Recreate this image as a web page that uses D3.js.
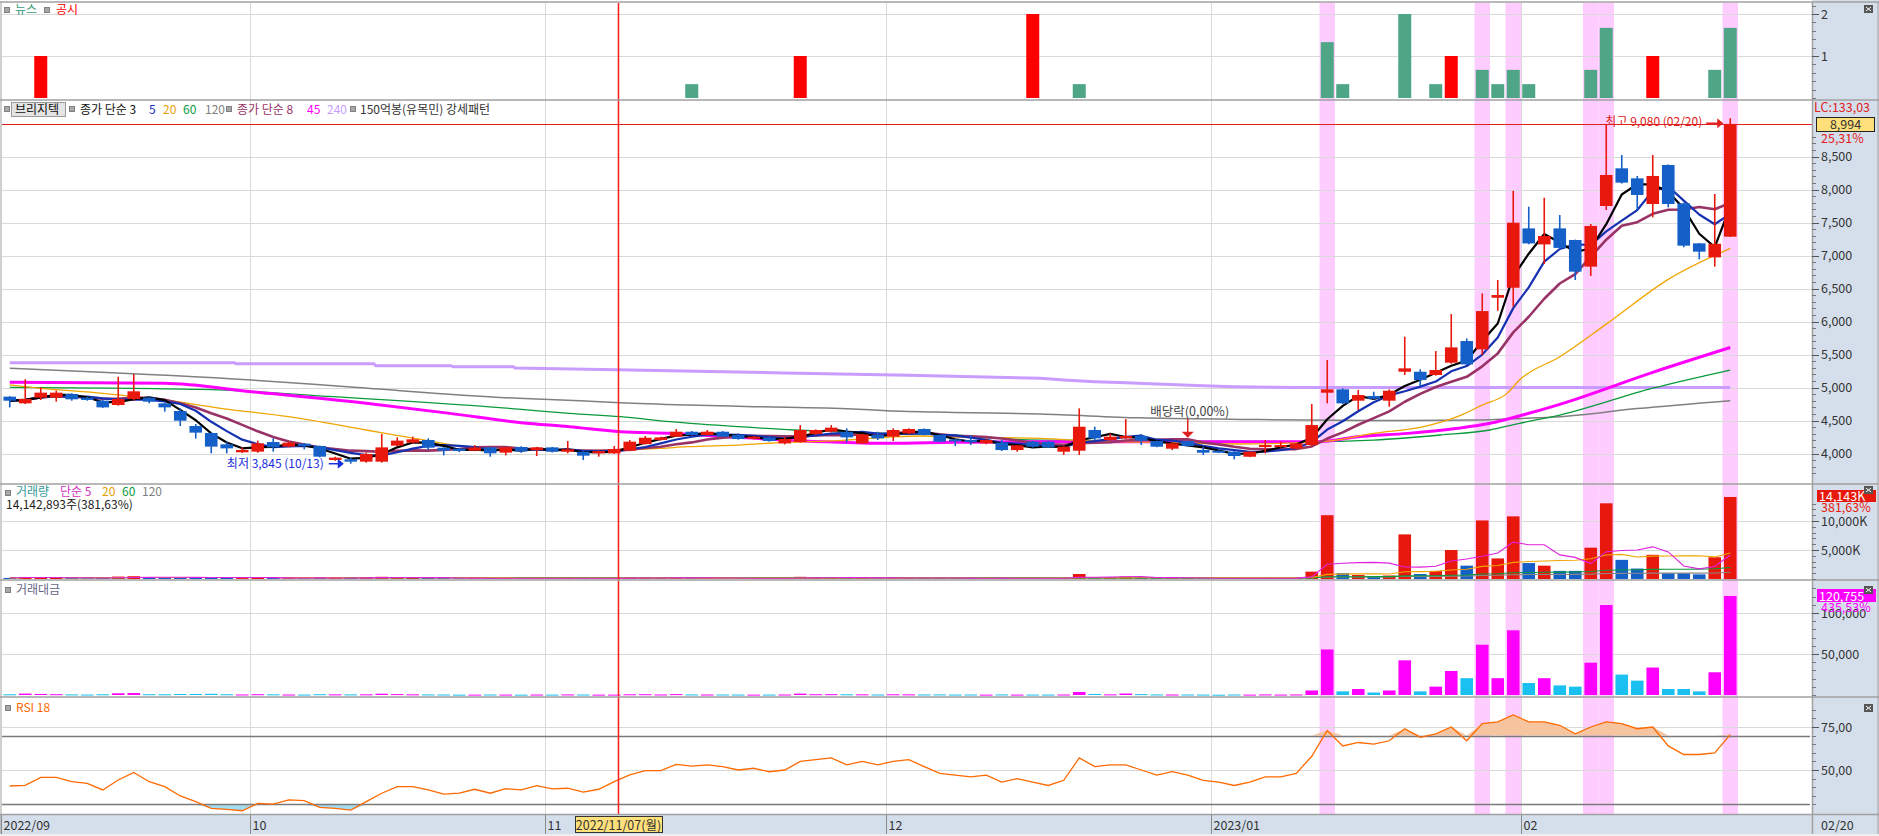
<!DOCTYPE html>
<html><head><meta charset="utf-8">
<script src="https://cdn.jsdelivr.net/npm/d3@7"></script>
<style>
body{margin:0;background:#fff;}
svg{display:block;font-family:"Noto Sans CJK KR","Noto Sans",sans-serif;}
</style></head><body>
<svg id="c" width="1879" height="836"></svg>
<script>
// ---------- DATA ----------
const dates = [
"2022-09-07","2022-09-08","2022-09-13","2022-09-14","2022-09-15","2022-09-16","2022-09-19","2022-09-20","2022-09-21","2022-09-22","2022-09-23","2022-09-26","2022-09-27","2022-09-28","2022-09-29","2022-09-30",
"2022-10-04","2022-10-05","2022-10-06","2022-10-07","2022-10-11","2022-10-12","2022-10-13","2022-10-14","2022-10-17","2022-10-18","2022-10-19","2022-10-20","2022-10-21","2022-10-24","2022-10-25","2022-10-26","2022-10-27","2022-10-28","2022-10-31",
"2022-11-01","2022-11-02","2022-11-03","2022-11-04","2022-11-07","2022-11-08","2022-11-09","2022-11-10","2022-11-11","2022-11-14","2022-11-15","2022-11-16","2022-11-17","2022-11-18","2022-11-21","2022-11-22","2022-11-23","2022-11-24","2022-11-25","2022-11-28","2022-11-29","2022-11-30",
"2022-12-01","2022-12-02","2022-12-05","2022-12-06","2022-12-07","2022-12-08","2022-12-09","2022-12-12","2022-12-13","2022-12-14","2022-12-15","2022-12-16","2022-12-19","2022-12-20","2022-12-21","2022-12-22","2022-12-23","2022-12-26","2022-12-27","2022-12-28","2022-12-29",
"2023-01-02","2023-01-03","2023-01-04","2023-01-05","2023-01-06","2023-01-09","2023-01-10","2023-01-11","2023-01-12","2023-01-13","2023-01-16","2023-01-17","2023-01-18","2023-01-19","2023-01-20","2023-01-25","2023-01-26","2023-01-27","2023-01-30","2023-01-31",
"2023-02-01","2023-02-02","2023-02-03","2023-02-06","2023-02-07","2023-02-08","2023-02-09","2023-02-10","2023-02-13","2023-02-14","2023-02-15","2023-02-16","2023-02-17","2023-02-20"];

const open = [4861,4760,4846,4846,4901,4846,4800,4735,4826,4846,
 4760,4644,4417,4311,4139,4018,4028,4174,4104,4149,
 4114,3902,3912,3876,3876,4119,4164,4205,4088,4073,
 4043,4093,4013,4098,4052,4093,4027,4027,4002,4002,
 4042,4143,4204,4255,4330,4280,4330,4280,4224,4244,
 4153,4174,4295,4330,4330,4153,4280,4255,4305,4371,
 4280,4214,4204,4153,4164,4052,4179,4179,4027,4042,
 4356,4204,4229,4265,4189,4073,4189,4053,4042,4027,
 3951,4103,4100,4073,4128,4921,4972,4800,4871,4800,
 5239,5239,5189,5376,5704,5578,6360,6512,7411,7168,
 7411,7235,6831,7750,8321,8169,7780,8371,7790,7184,
 6972,7285];
const high = [4870,5124,5002,4952,4910,4860,4810,5164,5204,4860,
 4770,4684,4447,4320,4179,4093,4194,4230,4179,4160,
 4120,3950,3937,4013,4295,4245,4255,4230,4095,4085,
 4129,4100,4100,4110,4100,4100,4189,4035,4045,4113,
 4204,4265,4255,4371,4340,4356,4340,4305,4265,4255,
 4244,4431,4365,4431,4381,4300,4330,4381,4381,4380,
 4290,4225,4280,4215,4204,4130,4190,4190,4110,4684,
 4406,4305,4522,4295,4195,4165,4195,4103,4050,4035,
 4035,4204,4178,4160,4749,5416,4987,4962,4936,4972,
 5770,5275,5552,6113,5744,6426,6628,7981,7739,7875,
 7613,7240,7477,8977,8523,8205,8523,8380,7800,7190,
 7932,9080];
const low = [4699,4750,4811,4785,4800,4800,4690,4725,4800,4760,
 4634,4417,4225,4003,4003,4010,4010,4028,4095,4063,
 3942,3890,3845,3861,3861,4110,4150,4053,3972,4020,
 4035,3952,3972,4010,3962,4015,4002,3901,3952,3995,
 4035,4135,4195,4250,4270,4270,4250,4210,4215,4180,
 4138,4165,4285,4320,4169,4145,4204,4189,4290,4275,
 4170,4113,4128,4140,4037,4027,4090,4085,3977,3977,
 4204,4195,4220,4128,4095,4052,4100,3977,4005,3911,
 3945,4002,4090,4065,4113,4760,4750,4659,4820,4709,
 5189,5022,5180,5360,5340,5492,6163,6224,7170,6870,
 7100,6629,6690,7689,8090,7689,7578,7730,7124,6942,
 6831,7280];
const close = [4800,4826,4922,4922,4821,4811,4699,4826,4942,4785,
 4699,4497,4316,4104,4078,4053,4154,4093,4164,4114,
 3952,3937,3876,3992,4093,4195,4215,4088,4043,4038,
 4093,4003,4093,4032,4093,4027,4063,3967,4037,4068,
 4179,4239,4244,4330,4280,4330,4255,4219,4255,4189,
 4219,4356,4356,4391,4244,4290,4229,4356,4371,4280,
 4179,4189,4179,4204,4052,4123,4103,4093,4103,4406,
 4229,4255,4265,4194,4103,4154,4113,4012,4012,3962,
 4027,4128,4128,4154,4431,4972,4760,4886,4830,4951,
 5290,5113,5265,5608,5350,6158,6401,7497,7183,7295,
 7115,6755,7447,8220,8104,7917,8205,7780,7149,7058,
 7177,8994];
// volume in thousand shares
const volume = [180,350,260,200,150,120,180,420,480,200,
 180,260,300,340,220,160,230,200,140,120,
 240,200,190,210,380,260,190,170,150,110,
 120,150,130,110,140,120,170,150,110,120,
 210,230,150,250,160,140,150,130,110,120,
 140,380,220,230,200,190,140,200,180,150,
 170,130,150,110,160,120,130,120,150,860,
 300,180,420,250,160,140,150,130,90,150,
 120,170,130,160,1270,11000,1000,690,380,600,
 7690,860,1400,5000,2300,10100,3550,10800,2750,2300,
 1400,1400,5400,13050,3300,1800,4170,1000,1000,800,
 3750,14143];
// trading value in million won
const tradeValue = [870,1700,1280,980,730,580,860,2100,2400,970,
 860,1200,1330,1440,910,650,950,830,580,500,
 960,790,750,830,1550,1090,800,700,610,450,
 490,610,530,450,570,490,700,600,450,490,
 870,970,640,1070,690,600,640,550,470,510,
 590,1640,950,1000,860,810,600,870,780,650,
 720,550,630,460,670,500,540,500,620,3700,
 1290,770,1850,1070,670,590,630,530,370,600,
 490,700,540,660,5500,55500,4400,7300,3000,5500,
 42300,4400,10200,29300,20500,61300,20500,78900,14600,20500,
 11700,10200,39400,109700,24900,17500,33500,7300,7300,4400,
 27700,120755];
const rsi18 = [40.7,41.1,45.7,45.7,43.2,42.2,38.4,44.2,48.6,43.2,
 40.3,34.9,31.6,27.7,27.1,26.3,30.6,30.2,32.6,32.2,
 28.3,27.7,26.7,31.6,36.5,40.3,40.3,38.4,36.0,36.5,
 38.8,36.5,39.1,38.4,40.9,39.0,39.4,37.2,38.8,43.2,
 47.1,49.6,49.6,53.3,52.3,53,52,50,51,49,
 50,55,56,57,53,55,53,55,56,52,
 48,47,46,47,43,45,43,41,44,57,
 52,53,53,50,47,49,47,44,43,41,
 43,46,46,48,58,73,64,66,65,67,
 74,69,71,75,67,77,78,82,78,78,
 76,71,75,78,77,74,75,64,59,59,
 60,70.6];

// long moving averages: [bar index, value]
const ma20Pts = [[0,5038],[2,4988],[6,4912],[10,4811],[13.6,4684],[18,4558],[23,4356],[26.5,4214],[29.5,4103],[33,4070],[36,4045],[39.4,4053],[42,4078],[43.7,4103],[47,4128],[50,4169],[53.4,4194],[56.6,4245],[58.7,4265],[62,4245],[66.5,4230],[68.6,4204],[75,4164],[79.4,4144],[84.7,4179],[88,4305],[91.2,4406],[93.4,4558],[95,4734],[96.6,4911],[97.4,5113],[100,5466],[103,5960],[107,6639],[111,7109]];
const ma45Pts = [[0,5078],[10,5063],[15.6,4937],[23,4760],[28.4,4608],[33,4467],[36.1,4406],[39.4,4331],[42.6,4305],[47,4245],[51.2,4189],[54.5,4164],[56.6,4154],[60.9,4169],[66.5,4179],[84.4,4179],[87,4255],[90.2,4305],[93.4,4381],[95.5,4457],[97.6,4583],[100,4745],[106,5230],[111,5606]];
const ma60Pts = [[0,5003],[12.3,4972],[20.9,4861],[33,4669],[36.1,4608],[39.4,4558],[42.6,4482],[47,4406],[50.6,4356],[53.4,4331],[56.6,4305],[60.9,4280],[63,4240],[66.5,4204],[75,4190],[83.7,4179],[88,4204],[92.3,4280],[95.5,4356],[97.4,4457],[100,4583],[106,4990],[111,5265]];
const ma120Pts = [[0,5290],[3.7,5255],[15.6,5114],[22.2,5003],[32.8,4836],[36.8,4801],[39.4,4770],[43.7,4735],[48,4710],[54.4,4674],[56.6,4649],[60.9,4623],[66.5,4598],[72.9,4540],[79.4,4517],[88,4500],[94.4,4507],[97.6,4532],[100,4558],[105,4680],[111,4800]];
const ma240Pts = [[0,5376],[14.5,5376],[14.6,5361],[23.5,5361],[23.6,5331],[28.5,5331],[28.6,5316],[32.5,5316],[32.6,5295],[40,5265],[50,5220],[58,5185],[66.5,5139],[68,5113],[70,5088],[72,5073],[74,5053],[77,5028],[79,5012],[83,5000],[111,5000]];

const newsDates = ["2022-11-14","2022-12-19","2023-01-11","2023-01-12","2023-01-18","2023-01-20","2023-01-27","2023-01-30","2023-01-31","2023-02-01","2023-02-07","2023-02-08","2023-02-17","2023-02-20"];
const newsVals  = [0.33,0.33,1.33,0.33,2,0.33,0.67,0.33,0.67,0.33,0.67,1.67,0.67,1.67];
const discDates = ["2022-09-13","2022-11-23","2022-12-14","2023-01-25","2023-02-13"];
const discVals  = [1,1,2,1,1];
const patternDates = ["2023-01-11","2023-01-27","2023-01-31","2023-02-07","2023-02-08","2023-02-20"];

const priceTicks = [4000,4500,5000,5500,6000,6500,7000,7500,8000,8500];
const newsTicks = [1,2];
const volTicks = [5000,10000];
const tvTicks = [50000,100000];
const rsiTicks = [50,75];
const rsiLevels = [30,70];
const lowMark = {date:"2022-10-13", value:3845, label:"최저 3,845 (10/13)"};
const highMark = {date:"2023-02-20", value:9080, label:"최고 9,080 (02/20)"};
const divMark = {date:"2022-12-28", label:"배당락(0,00%)"};
const crossDate = "2022-11-07";

// ---------- LAYOUT ----------
const svg = d3.select('#c');
const RED='#e8190c', BLUE='#1560c8', GRID='#d9d9d9', AXBG='#d5dfec', TXT='#333';
const n = dates.length, step = 15.5;
const idx = d3.range(n);
const di = d => dates.indexOf(d);
const x = d3.scaleLinear().domain([-0.5, n-0.5]).range([2, 2+n*step]);
const PR = 1812; // plot right
const yN = d3.scaleLinear().domain([0,2]).range([98,14]);
const yP = d3.scaleLinear().domain([4000,8500]).range([453.5,156.5]);
const yV = d3.scaleLinear().domain([0,10000]).range([579,521]);
const yT = d3.scaleLinear().domain([0,100000]).range([695,613]);
const yR = d3.scaleLinear().domain([50,75]).range([770,727]);
const panels = {news:[3,99], price:[101,483], vol:[485,579], tv:[581,696], rsi:[698,814]};

const defs = svg.append('defs');
Object.entries(panels).forEach(([k,[t,b]])=>{
  defs.append('clipPath').attr('id','cp-'+k).append('rect')
    .attr('x',2).attr('y',t).attr('width',PR-2).attr('height',b-t);
});

// backgrounds
svg.append('rect').attr('width',1879).attr('height',836).attr('fill','#fff');
svg.append('rect').attr('x',PR).attr('y',0).attr('width',1879-PR).attr('height',815).attr('fill',AXBG);
svg.append('rect').attr('x',0).attr('y',815).attr('width',1879).attr('height',19).attr('fill',AXBG);
svg.append('rect').attr('x',0).attr('y',834).attr('width',1879).attr('height',2).attr('fill','#eeeeee');

// pattern bands
svg.append('g').selectAll('rect').data(patternDates.map(di)).join('rect')
  .attr('x', i=>x(i)-step/2).attr('width', step).attr('y',3).attr('height',811)
  .attr('fill','#ffccff');

// horizontal grids
const hgrid = (vals, sc) => svg.append('g').selectAll('line').data(vals).join('line')
  .attr('x1',2).attr('x2',PR).attr('y1',d=>Math.round(sc(d))+0.5).attr('y2',d=>Math.round(sc(d))+0.5)
  .attr('stroke',GRID).attr('stroke-width',1);
hgrid(newsTicks,yN); hgrid(priceTicks,yP); hgrid(volTicks,yV); hgrid(tvTicks,yT); hgrid(rsiTicks,yR);

// month boundaries
const monthStarts = idx.filter(i => i===0 || dates[i].slice(0,7)!==dates[i-1].slice(0,7));
svg.append('g').selectAll('line').data(monthStarts.filter(i=>i>0)).join('line')
  .attr('x1',i=>Math.round(x(i)-step/2)+0.5).attr('x2',i=>Math.round(x(i)-step/2)+0.5)
  .attr('y1',3).attr('y2',814).attr('stroke',GRID);

// ---------- NEWS PANEL ----------
const gN = svg.append('g').attr('clip-path','url(#cp-news)');
gN.selectAll('rect.n').data(newsDates.map((d,k)=>({i:di(d),v:newsVals[k]}))).join('rect')
  .attr('x',d=>x(d.i)-6.5).attr('width',13).attr('y',d=>yN(d.v)).attr('height',d=>yN(0)-yN(d.v))
  .attr('fill','#4ea686');
gN.selectAll('rect.d').data(discDates.map((d,k)=>({i:di(d),v:discVals[k]}))).join('rect')
  .attr('x',d=>x(d.i)-6.5).attr('width',13).attr('y',d=>yN(d.v)).attr('height',d=>yN(0)-yN(d.v))
  .attr('fill','#ff0000');

// ---------- PRICE PANEL ----------
const gP = svg.append('g').attr('clip-path','url(#cp-price)');
const sma = (arr,p) => arr.map((_,i)=>d3.mean(arr.slice(Math.max(0,i-p+1),i+1)));
const ma3 = sma(close,3), ma5 = sma(close,5), ma8 = sma(close,8);
const lineIdx = d3.line().x(d=>x(d[0])).y(d=>yP(d[1])).curve(d3.curveMonotoneX);
const lineArr = arr => d3.line().x((d,i)=>x(i)).y(d=>yP(d))(arr);
const drawPath = (d,color,w) => gP.append('path').attr('d',d).attr('fill','none').attr('stroke',color).attr('stroke-width',w).attr('stroke-linejoin','round');
drawPath(d3.line().x(d=>x(d[0])).y(d=>yP(d[1]))(ma240Pts),'#c99cff',3);
drawPath(lineIdx(ma120Pts),'#808080',1.5);
drawPath(lineIdx(ma60Pts),'#0a9a3a',1.3);
drawPath(lineIdx(ma45Pts),'#ff00ff',3);
drawPath(lineIdx(ma20Pts),'#f0a500',1.3);
drawPath(lineArr(ma8),'#993366',2.6);
drawPath(lineArr(ma5),'#1530b0',2.2);
drawPath(lineArr(ma3),'#000000',2.2);

const up = i => close[i] >= open[i];
gP.selectAll('line.wick').data(idx).join('line')
  .attr('x1',i=>x(i)).attr('x2',i=>x(i)).attr('y1',i=>yP(high[i])).attr('y2',i=>yP(low[i]))
  .attr('stroke',i=>up(i)?RED:BLUE).attr('stroke-width',1.6);
gP.selectAll('rect.body').data(idx).join('rect')
  .attr('x',i=>x(i)-6.3).attr('width',12.6)
  .attr('y',i=>yP(Math.max(open[i],close[i])))
  .attr('height',i=>Math.max(2,Math.abs(yP(open[i])-yP(close[i]))))
  .attr('fill',i=>up(i)?RED:BLUE);

// last price line
const lastY = Math.round(yP(close[n-1]))+0.5;
svg.append('line').attr('x1',2).attr('x2',PR).attr('y1',lastY).attr('y2',lastY).attr('stroke','#e02020').attr('stroke-width',1.2);

// annotations
const li = di(lowMark.date), ly = yP(lowMark.value);
svg.append('path').attr('d',`M${x(li)-22},${ly}L${x(li)-12},${ly}`).attr('stroke','#1a2ee0').attr('stroke-width',1.5);
svg.append('path').attr('d',`M${x(li)-13},${ly-5}L${x(li)-7},${ly}L${x(li)-13},${ly+5}Z`).attr('fill','#1a2ee0');
svg.append('text').attr('x',x(li)-27).attr('y',ly+4).attr('text-anchor','end').attr('font-size',12).attr('fill','#1a2ee0').text(lowMark.label);

const hi = di(highMark.date), hy = yP(highMark.value)+5;
svg.append('path').attr('d',`M${x(hi)-24},${hy}L${x(hi)-12},${hy}`).attr('stroke','#e02020').attr('stroke-width',1.5);
svg.append('path').attr('d',`M${x(hi)-13},${hy-5}L${x(hi)-7},${hy}L${x(hi)-13},${hy+5}Z`).attr('fill','#e02020');
svg.append('text').attr('x',x(hi)-28).attr('y',hy+3).attr('text-anchor','end').attr('font-size',12).attr('fill','#e02020').text(highMark.label);

const dvi = di(divMark.date), dvTip = yP(high[dvi]) - 3;
svg.append('line').attr('x1',x(dvi)).attr('x2',x(dvi)).attr('y1',dvTip-19).attr('y2',dvTip-5).attr('stroke','#e02020').attr('stroke-width',1.5);
svg.append('path').attr('d',`M${x(dvi)-6},${dvTip-6}L${x(dvi)+6},${dvTip-6}L${x(dvi)},${dvTip}Z`).attr('fill','#e02020');
svg.append('text').attr('x',x(dvi)+2).attr('y',dvTip-22).attr('text-anchor','middle').attr('font-size',12.5).attr('fill','#444').text(divMark.label);

// ---------- VOLUME PANEL ----------
const gV = svg.append('g').attr('clip-path','url(#cp-vol)');
gV.selectAll('rect').data(idx).join('rect')
  .attr('x',i=>x(i)-6.3).attr('width',12.6).attr('y',i=>yV(volume[i])).attr('height',i=>Math.max(0.6,yV(0)-yV(volume[i])))
  .attr('fill',i=>up(i)?RED:BLUE);
const vline = (arr,color) => gV.append('path').attr('d',d3.line().x((d,i)=>x(i)).y(d=>yV(d))(arr)).attr('fill','none').attr('stroke',color).attr('stroke-width',1.1);
vline(sma(volume,120),'#888888');
vline(sma(volume,60),'#0a9a3a');
vline(sma(volume,20),'#f0a500');
vline(sma(volume,5),'#e020e0');

// ---------- TRADING VALUE PANEL ----------
const gT = svg.append('g').attr('clip-path','url(#cp-tv)');
gT.selectAll('rect').data(idx).join('rect')
  .attr('x',i=>x(i)-6.3).attr('width',12.6).attr('y',i=>yT(tradeValue[i])).attr('height',i=>Math.max(1,yT(0)-yT(tradeValue[i])))
  .attr('fill',i=>up(i)?'#ff00ff':'#19c0f0');

// ---------- RSI PANEL ----------
const gR = svg.append('g').attr('clip-path','url(#cp-rsi)');
gR.append('path').attr('d',d3.area().x((d,i)=>x(i)).y0(yR(70)).y1(d=>yR(Math.max(d,70)))(rsi18)).attr('fill','#f6c5a0');
gR.append('path').attr('d',d3.area().x((d,i)=>x(i)).y0(yR(30)).y1(d=>yR(Math.min(d,30)))(rsi18)).attr('fill','#a6dcef');
gR.selectAll('line.lv').data(rsiLevels).join('line')
  .attr('x1',2).attr('x2',PR-2).attr('y1',d=>Math.round(yR(d))+0.5).attr('y2',d=>Math.round(yR(d))+0.5)
  .attr('stroke','#7a7a7a').attr('stroke-width',1.5);
gR.append('path').attr('d',d3.line().x((d,i)=>x(i)).y(d=>yR(d))(rsi18)).attr('fill','none').attr('stroke','#ff6a00').attr('stroke-width',1.3);

// crosshair vertical line
const cx = Math.round(x(di(crossDate)))+4.5;
svg.append('line').attr('x1',cx).attr('x2',cx).attr('y1',3).attr('y2',814).attr('stroke','#ff1a1a').attr('stroke-width',1.5);

// ---------- FRAME ----------
const sep = [2,100,484,580,697,814.5];
svg.append('g').selectAll('line').data(sep).join('line')
  .attr('x1',0).attr('x2',1879).attr('y1',d=>d).attr('y2',d=>d).attr('stroke','#a0a0a0').attr('stroke-width',1.6);
svg.append('line').attr('x1',1).attr('x2',1).attr('y1',2).attr('y2',834).attr('stroke','#a0a0a0');
svg.append('line').attr('x1',PR+0.5).attr('x2',PR+0.5).attr('y1',2).attr('y2',834).attr('stroke','#a0a0a0').attr('stroke-width',1.5);
svg.append('line').attr('x1',1878).attr('x2',1878).attr('y1',2).attr('y2',834).attr('stroke','#a0a0a0');

// ---------- RIGHT AXES ----------
const axis = (sc, major, minorStep, lo, hi, fmt, fs) => {
  const g = svg.append('g');
  const minors = d3.range(lo, hi+1e-9, minorStep);
  g.selectAll('line.mi').data(minors).join('line')
    .attr('x1',PR).attr('x2',PR+4).attr('y1',d=>Math.round(sc(d))+0.5).attr('y2',d=>Math.round(sc(d))+0.5).attr('stroke','#777');
  g.selectAll('line.ma').data(major).join('line')
    .attr('x1',PR).attr('x2',PR+7).attr('y1',d=>Math.round(sc(d))+0.5).attr('y2',d=>Math.round(sc(d))+0.5).attr('stroke','#555');
  g.selectAll('text').data(major).join('text')
    .attr('x',PR+9).attr('y',d=>sc(d)+4.5).attr('font-size',fs||12.5).attr('fill',TXT).text(fmt);
};
const comma = d3.format(',');
axis(yN, newsTicks, 0.2, 0, 2.2, d=>d);
axis(yP, priceTicks, 100, 3700, 8800, d=>comma(d));
axis(yV, volTicks, 1000, 0, 13000, d=>comma(d)+'K');
axis(yT, tvTicks, 10000, 0, 130000, d=>comma(d));
axis(yR, rsiTicks, 5, 30, 85, d=>d.toFixed(2).replace('.',','));

// right axis value labels
svg.append('text').attr('x',PR+2).attr('y',112).attr('font-size',12.5).attr('fill','#e02020').text('LC:133,03');
svg.append('rect').attr('x',PR+4.5).attr('y',117.5).attr('width',58).attr('height',14).attr('fill','#ffdf7a').attr('stroke','#222');
svg.append('text').attr('x',PR+33.5).attr('y',129).attr('text-anchor','middle').attr('font-size',12.5).attr('fill','#333').text(comma(close[n-1]));
svg.append('text').attr('x',PR+9).attr('y',143).attr('font-size',12.5).attr('fill','#e02020').text('25,31%');

svg.append('rect').attr('x',PR+5).attr('y',490).attr('width',59).attr('height',12).attr('fill','#e8190c');
svg.append('text').attr('x',PR+7).attr('y',501).attr('font-size',12.5).attr('fill','#fff').text(comma(volume[n-1])+'K');
svg.append('text').attr('x',PR+9).attr('y',512).attr('font-size',12.5).attr('fill','#e8190c').text('381,63%');

svg.append('rect').attr('x',PR+5).attr('y',589).attr('width',59).attr('height',13).attr('fill','#ff00ff');
svg.append('text').attr('x',PR+7).attr('y',600.5).attr('font-size',12.5).attr('fill','#fff').text(comma(tradeValue[n-1]));
svg.append('text').attr('x',PR+9).attr('y',612).attr('font-size',12.5).attr('fill','#ff00ff').text('435,53%');

// close icons
[5,486,586,704].forEach(yy=>{
  svg.append('rect').attr('x',1864).attr('y',yy).attr('width',9).attr('height',8).attr('fill','#555');
  svg.append('path').attr('d',`M1866,${yy+2}L1871,${yy+6}M1871,${yy+2}L1866,${yy+6}`).attr('stroke','#fff').attr('stroke-width',1);
});

// ---------- X AXIS ----------
const gX = svg.append('g');
monthStarts.forEach(i=>{
  const xx = i===0 ? 1.5 : Math.round(x(i)-step/2)+0.5;
  gX.append('line').attr('x1',xx).attr('x2',xx).attr('y1',815).attr('y2',834).attr('stroke','#8a8a8a');
  const [yy,mm] = dates[i].split('-');
  const lab = (i===0 || mm==='01') ? yy+'/'+mm : mm;
  gX.append('text').attr('x',xx+2).attr('y',830).attr('font-size',12.5).attr('fill',TXT).text(lab);
});
gX.append('text').attr('x',PR+9).attr('y',830).attr('font-size',12.5).attr('fill',TXT).text(dates[n-1].slice(5).replace('-','/'));
// crosshair date box
svg.append('rect').attr('x',cx-43).attr('y',816.5).attr('width',87).attr('height',16).attr('fill','#ffe07a').attr('stroke','#333');
svg.append('text').attr('x',cx).attr('y',829.5).attr('text-anchor','middle').attr('font-size',12.5).attr('fill','#333').text('2022/11/07(월)');

// ---------- LEGENDS ----------
const sq = (xx,yy)=>svg.append('rect').attr('x',xx+0.5).attr('y',yy+0.5).attr('width',5).attr('height',5).attr('fill','#a8a8a8').attr('stroke','#808080');
const txt = (xx,yy,t,c,fs)=>svg.append('text').attr('x',xx).attr('y',yy).attr('font-size',fs||12).attr('fill',c).text(t);
sq(4,7); txt(15,14,'뉴스','#3a9a7a'); sq(44,7); txt(56,14,'공시','#ff0000');

sq(4,106);
svg.append('rect').attr('x',11.5).attr('y',102.5).attr('width',54).attr('height',14).attr('fill','#e4e4e4').attr('stroke','#9a9a9a');
txt(15,114,'브리지텍','#111');
sq(69,106);
txt(80,114,'종가 단순 3','#111'); txt(149,114,'5','#1530c0'); txt(163,114,'20','#e6a000'); txt(183,114,'60','#0a9a3a'); txt(205,114,'120','#808080');
sq(226,106);
txt(237,114,'종가 단순 8','#993366'); txt(307,114,'45','#ff00ff'); txt(327,114,'240','#c99cff');
sq(350,106);
txt(360,114,'150억봉(유목민) 강세패턴','#333');

sq(5,490); txt(16,496,'거래량','#339999'); txt(60,496,'단순 5','#d030c0'); txt(102,496,'20','#e6a000'); txt(122,496,'60','#0a9a3a'); txt(142,496,'120','#808080');
txt(6,509,'14,142,893주(381,63%)','#222');
sq(5,587); txt(16,594,'거래대금','#66668a');
sq(5,705); txt(16,712,'RSI 18','#ff6600');
</script>
</body></html>
